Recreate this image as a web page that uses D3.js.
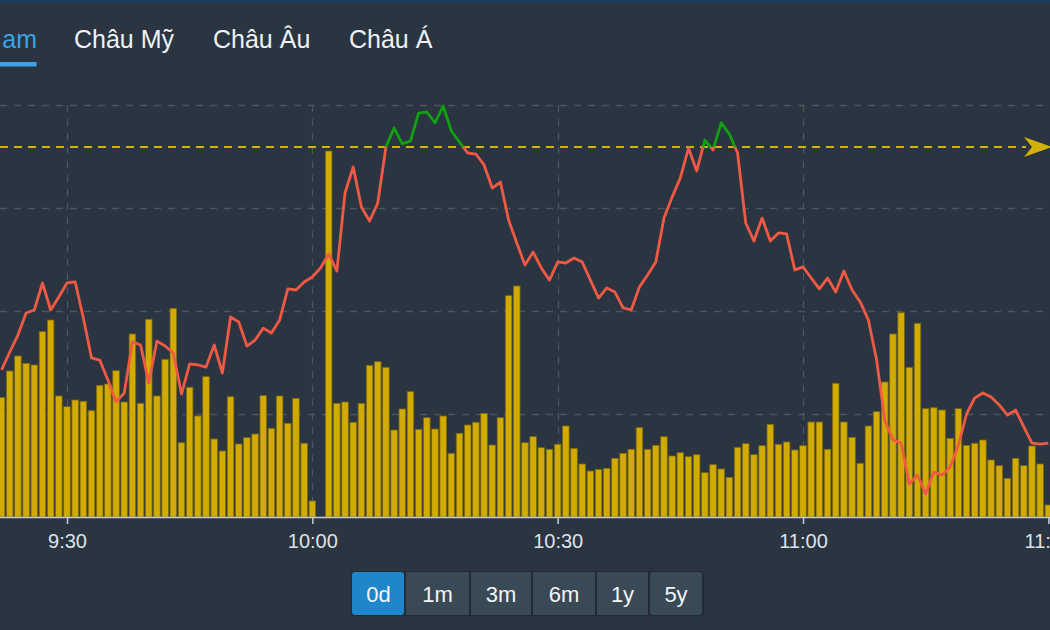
<!DOCTYPE html>
<html><head><meta charset="utf-8">
<script src="https://cdn.jsdelivr.net/npm/d3@7"></script>
<style>
html,body{margin:0;padding:0;background:#2a3541;overflow:hidden;}
svg{display:block;font-family:"Liberation Sans",Arial,sans-serif;}
</style></head><body>
<svg id="chart" width="1050" height="630"></svg>
<script>
const tabs = ["Việt Nam","Châu Mỹ","Châu Âu","Châu Á"];
const ranges = ["0d","1m","3m","6m","1y","5y"];
const times = ["9:22","9:23","9:24","9:25","9:26","9:27","9:28","9:29","9:30","9:31","9:32","9:33","9:34","9:35","9:36","9:37","9:38","9:39","9:40","9:41","9:42","9:43","9:44","9:45","9:46","9:47","9:48","9:49","9:50","9:51","9:52","9:53","9:54","9:55","9:56","9:57","9:58","9:59","10:00","10:01","10:02","10:03","10:04","10:05","10:06","10:07","10:08","10:09","10:10","10:11","10:12","10:13","10:14","10:15","10:16","10:17","10:18","10:19","10:20","10:21","10:22","10:23","10:24","10:25","10:26","10:27","10:28","10:29","10:30","10:31","10:32","10:33","10:34","10:35","10:36","10:37","10:38","10:39","10:40","10:41","10:42","10:43","10:44","10:45","10:46","10:47","10:48","10:49","10:50","10:51","10:52","10:53","10:54","10:55","10:56","10:57","10:58","10:59","11:00","11:01","11:02","11:03","11:04","11:05","11:06","11:07","11:08","11:09","11:10","11:11","11:12","11:13","11:14","11:15","11:16","11:17","11:18","11:19","11:20","11:21","11:22","11:23","11:24","11:25","11:26","11:27","11:28","11:29","11:30"];
const prices = [1197.14,1198.01,1198.83,1199.90,1200.05,1201.36,1200.05,1200.68,1201.36,1201.41,1199.66,1197.72,1197.62,1196.65,1195.58,1196.02,1198.50,1198.35,1196.50,1198.54,1198.30,1197.96,1195.97,1197.43,1197.38,1197.28,1198.35,1196.99,1199.71,1199.47,1198.30,1198.59,1199.17,1198.93,1199.56,1201.07,1201.02,1201.41,1201.65,1202.09,1202.77,1201.94,1205.73,1206.99,1205.05,1204.37,1205.24,1207.96,1208.88,1208.11,1208.25,1209.61,1209.66,1209.13,1209.95,1208.74,1208.20,1207.67,1207.62,1207.09,1205.97,1206.26,1204.42,1203.30,1202.23,1202.86,1202.09,1201.50,1202.38,1202.33,1202.57,1202.38,1201.50,1200.63,1201.12,1200.92,1200.15,1200.05,1201.17,1201.75,1202.38,1204.51,1205.53,1206.46,1207.91,1206.80,1208.30,1207.82,1209.13,1208.59,1207.67,1204.27,1203.40,1204.51,1203.40,1203.79,1203.74,1201.99,1202.14,1201.60,1201.07,1201.60,1200.92,1201.94,1201.02,1200.44,1199.56,1197.62,1194.71,1193.74,1193.59,1191.60,1192.04,1191.12,1192.18,1192.04,1192.43,1193.50,1195.00,1195.78,1196.02,1195.83,1195.44,1194.95,1195.19,1194.37,1193.59,1193.54,1193.59];
const volumes = [1197,1460,1610,1537,1520,1853,1970,1210,1103,1170,1157,1063,1317,1330,1463,1150,1830,1137,1977,1210,1577,2087,743,1297,1010,1403,780,660,1203,730,793,830,1213,887,1210,937,1187,737,160,null,3660,1137,1150,947,1137,1517,1553,1497,870,1080,1253,877,993,880,1010,637,837,920,947,1037,720,993,2213,2310,743,803,693,677,727,910,687,530,460,477,487,587,637,677,893,677,717,803,610,643,603,623,443,523,480,397,697,733,623,713,927,727,750,670,713,950,950,677,1337,950,797,537,910,1053,1350,1830,2043,1497,1937,1083,1093,1070,787,1083,717,737,770,570,513,387,587,513,710,530,120];
const refPrice = 1207.96;
const xTicks = ["9:30","10:00","10:30","11:00","11:30"];
const priceTicks = [1195,1200,1205,1210];

(function(){
const toMin = s => { const [h,m] = s.split(":").map(Number); return h*60+m; };
const W = 1050, H = 630;
const svg = d3.select("#chart");
svg.append("rect").attr("width",W).attr("height",H).attr("fill","#2a3541");
svg.append("rect").attr("width",W).attr("height",3).attr("fill","#1a3a5e");

const defs = svg.append("defs");
defs.append("clipPath").attr("id","tabclip").append("rect").attr("x",1.2).attr("y",0).attr("width",W).attr("height",80);

// tabs
const tabX = [37, 74, 213, 349];
const tg = svg.append("g").attr("clip-path","url(#tabclip)");
tabs.forEach((t,i)=>{
  tg.append("text").attr("x",tabX[i]).attr("y",48)
    .attr("text-anchor", i===0 ? "end" : "start")
    .attr("font-size",25).attr("fill", i===0 ? "#3ba3e4" : "#eef2f5").text(t);
});
svg.append("rect").attr("x",0).attr("y",62).attr("width",36.5).attr("height",4.5).attr("fill","#3ba3e4");

const plotTop = 105, plotBottom = 517;
const x = d3.scaleLinear().domain([toMin("9:30"), toMin("11:00")]).range([67, 803]);
const yP = d3.scaleLinear().domain([1190,1210]).range([plotBottom, plotTop]);
const yV = d3.scaleLinear().domain([0,4120]).range([plotBottom, plotTop]);

const data = times.map((t,i)=>({m:toMin(t), p:prices[i], v:volumes[i]}));

defs.append("clipPath").attr("id","plot").append("rect").attr("x",0).attr("y",0).attr("width",W).attr("height",plotBottom);
defs.append("clipPath").attr("id","above").append("rect").attr("x",0).attr("y",0).attr("width",W).attr("height",yP(refPrice));
defs.append("clipPath").attr("id","below").append("rect").attr("x",0).attr("y",yP(refPrice)).attr("width",W).attr("height",plotBottom-yP(refPrice));

// grid
const g = svg.append("g");
g.selectAll(".hg").data(priceTicks).join("line")
  .attr("x1",0).attr("x2",1045).attr("y1",d=>Math.round(yP(d))+0.5).attr("y2",d=>Math.round(yP(d))+0.5)
  .attr("stroke","#4e555c").attr("stroke-width",1.3).attr("stroke-dasharray","7,7");
g.selectAll(".vg").data(xTicks.slice(0,4)).join("line")
  .attr("x1",d=>Math.round(x(toMin(d)))+0.5).attr("x2",d=>Math.round(x(toMin(d)))+0.5)
  .attr("y1",plotTop).attr("y2",plotBottom)
  .attr("stroke","#4e555c").attr("stroke-width",1.3).attr("stroke-dasharray","7,7");

// bars
const bw = (x(1)-x(0))*0.8;
svg.append("g").attr("clip-path","url(#plot)")
  .selectAll("rect").data(data.filter(d=>d.v!=null)).join("rect")
  .attr("x",d=>x(d.m)-bw/2).attr("width",bw)
  .attr("y",d=>yV(d.v)).attr("height",d=>plotBottom-yV(d.v))
  .attr("fill","#d2ab02").attr("stroke","#7a6810").attr("stroke-width",0.8);

// reference line
const ry = yP(refPrice);
svg.append("line").attr("x1",0).attr("x2",1026).attr("y1",ry).attr("y2",ry)
  .attr("stroke","#d4b106").attr("stroke-width",2).attr("stroke-dasharray","8,6");
svg.append("path").attr("d",`M1024,${ry-10} L1052,${ry} L1024,${ry+10} L1032,${ry} Z`).attr("fill","#d4b106");

// price line
const line = d3.line().x(d=>x(d.m)).y(d=>yP(d.p)).curve(d3.curveLinear);
svg.append("path").datum(data).attr("d",line).attr("fill","none")
  .attr("stroke","#f05a45").attr("stroke-width",2.8).attr("stroke-linejoin","round")
  .attr("clip-path","url(#below)");
svg.append("path").datum(data).attr("d",line).attr("fill","none")
  .attr("stroke","#10a010").attr("stroke-width",2.8).attr("stroke-linejoin","round")
  .attr("clip-path","url(#above)");

// x axis
const ax = svg.append("g").attr("transform",`translate(0,${plotBottom})`)
  .call(d3.axisBottom(x).tickValues(xTicks.map(toMin)).tickSize(7).tickSizeOuter(0)
    .tickFormat(d=>{const h=Math.floor(d/60), m=d%60; return h+":"+String(m).padStart(2,"0");}));
ax.select(".domain").attr("stroke","#c5ccd3").attr("stroke-width",1.5).attr("d","M0,0.5H1050");
ax.selectAll(".tick line").attr("stroke","#c5ccd3").attr("stroke-width",1.5);
ax.selectAll(".tick text").attr("fill","#dde3e8").attr("font-size",20)
  .attr("font-family","'Liberation Sans',Arial,sans-serif").attr("dy","0").attr("y",31);

// range buttons
const bx = [352,405,470,532,596,649,703];
const bg = svg.append("g");
bg.append("rect").attr("x",351).attr("y",571).attr("width",353).attr("height",45).attr("rx",4).attr("fill","#222b34");
ranges.forEach((r,i)=>{
  const x0 = bx[i]+(i?1:0), w = bx[i+1]-x0;
  bg.append("rect").attr("x",x0).attr("y",572).attr("width",w-1).attr("height",43)
    .attr("rx", (i===0||i===ranges.length-1)?3:0)
    .attr("fill", i===0 ? "#1f86cc" : "#3a4956");
  bg.append("text").attr("x",(bx[i]+bx[i+1])/2).attr("y",602).attr("text-anchor","middle")
    .attr("font-size",22).attr("fill","#f2f5f8").text(r);
});
})();
</script></body></html>
